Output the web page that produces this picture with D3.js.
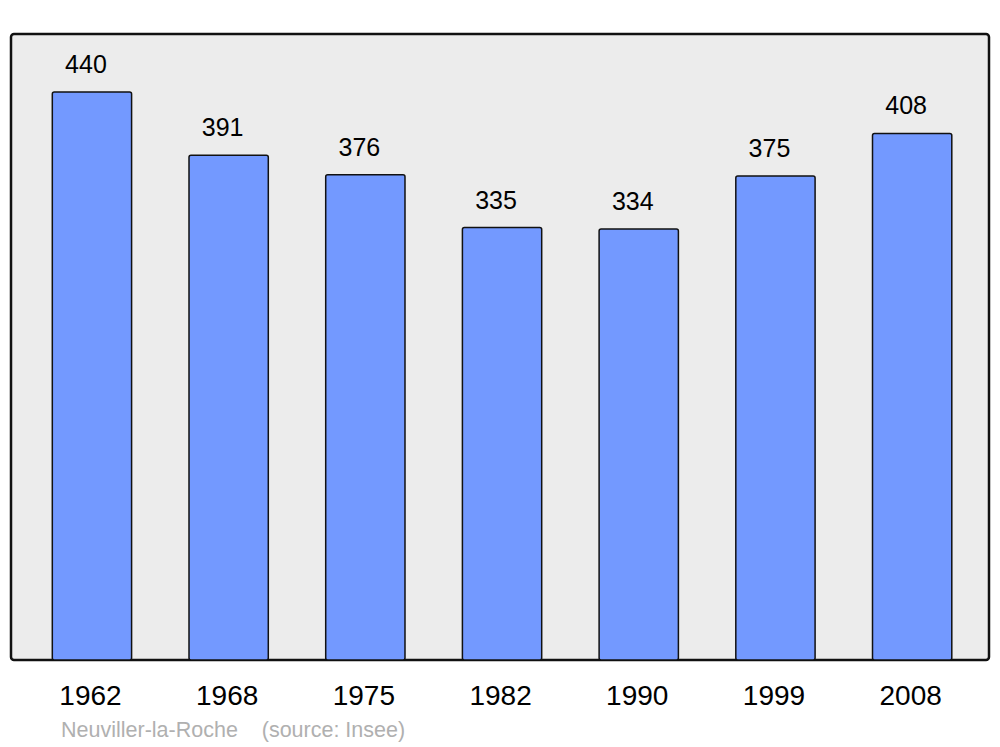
<!DOCTYPE html>
<html>
<head>
<meta charset="utf-8">
<script src="https://cdn.jsdelivr.net/npm/d3@7"></script>
<style>
  body { margin: 0; background: #fff; }
  text { font-family: "Liberation Sans", Arial, sans-serif; }
</style>
</head>
<body>
<div id="chart"></div>
<script>
var years = ["1962", "1968", "1975", "1982", "1990", "1999", "2008"];
var population = [440, 391, 376, 335, 334, 375, 408];
var townName = "Neuviller-la-Roche";
var sourceText = "(source: Insee)";

var svgWidth = 1000;
var svgHeight = 747;

var frame = { left: 11, right: 989, top: 34, bottom: 660 };

var svg = d3.select("#chart")
  .append("svg")
  .attr("width", svgWidth)
  .attr("height", svgHeight);

// background frame
svg.append("rect")
  .attr("x", frame.left)
  .attr("y", frame.top)
  .attr("width", frame.right - frame.left)
  .attr("height", frame.bottom - frame.top)
  .attr("rx", 3)
  .attr("fill", "#ececec")
  .attr("stroke", "#111")
  .attr("stroke-width", 2.5);

var data = years.map((y, i) => ({ year: y, value: population[i] }));

var x = d3.scaleBand()
  .domain(years)
  .range([23.6, 980.5])
  .paddingInner(0.42)
  .paddingOuter(0.21);

var y = d3.scaleLinear()
  .domain([0, 485])
  .range([frame.bottom, frame.top]);

svg.selectAll("rect.bar")
  .data(data)
  .enter()
  .append("rect")
  .attr("class", "bar")
  .attr("x", d => x(d.year))
  .attr("y", d => y(d.value))
  .attr("width", x.bandwidth())
  .attr("height", d => y(0) - y(d.value))
  .attr("rx", 2)
  .attr("fill", "#7399ff")
  .attr("stroke", "#111")
  .attr("stroke-width", 1.5);

// value labels (sit a little left of the bar centre, as in the original)
svg.selectAll("text.value")
  .data(data)
  .enter()
  .append("text")
  .attr("class", "value")
  .attr("x", d => x(d.year) + x.bandwidth() / 2 - 6)
  .attr("y", d => y(d.value) - 19)
  .attr("text-anchor", "middle")
  .attr("font-size", "25px")
  .attr("fill", "#000")
  .text(d => d.value);

// year axis (no line, no ticks)
var xAxis = d3.axisBottom(x).tickSize(0).tickPadding(0);
var axisG = svg.append("g")
  .attr("transform", `translate(-1.5, ${frame.bottom})`)
  .call(xAxis);
axisG.select(".domain").remove();
axisG.selectAll("text")
  .attr("dy", null)
  .attr("y", 45)
  .attr("font-size", "28px")
  .attr("font-family", "Liberation Sans, Arial, sans-serif")
  .attr("fill", "#000");

// footer
svg.append("text")
  .attr("x", 61)
  .attr("y", 737)
  .attr("font-size", "21.5px")
  .attr("fill", "#b0b0b0")
  .attr("xml:space", "preserve")
  .text(townName + "    " + sourceText);
</script>
</body>
</html>
